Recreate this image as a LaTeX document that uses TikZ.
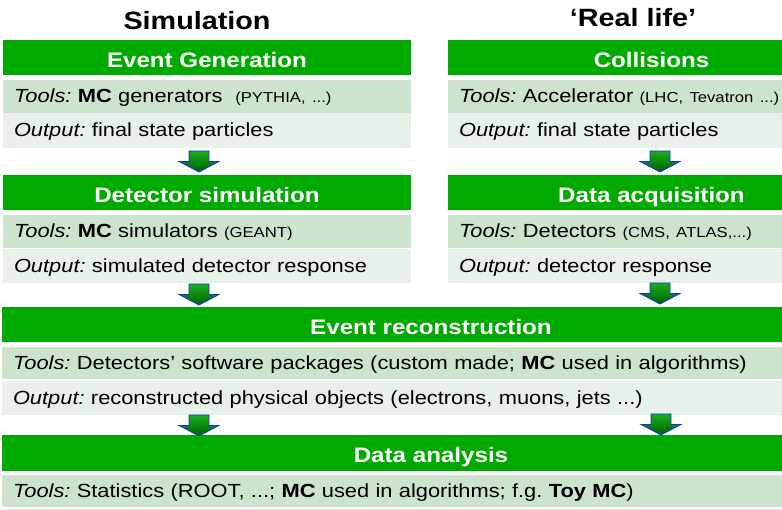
\documentclass[tikz,border=0pt]{standalone}
\usepackage{fontspec}
\setmainfont{Liberation Sans}[FakeStretch=1.15]
\usetikzlibrary{calc}
\frenchspacing

\definecolor{hdrgreen}{RGB}{0,170,0}
\definecolor{rowdark}{RGB}{205,227,205}
\definecolor{rowlight}{RGB}{231,241,231}
\definecolor{arrowtop}{RGB}{25,175,25}
\definecolor{arrowbot}{RGB}{0,95,0}
\definecolor{arrowedge}{RGB}{20,50,235}

\newcommand\smtxt{\fontsize{14.5}{16}\selectfont}

\tikzset{
  titletext/.style={font=\bfseries\fontsize{25}{28}\selectfont, anchor=base, inner sep=0pt},
  hdr/.style={fill=hdrgreen, text=white, font=\bfseries\fontsize{21}{24}\selectfont,
    anchor=north west, minimum height=35pt, inner sep=0pt, outer sep=0pt,
    text height=19.5pt, text depth=0pt},
  rowbase/.style={anchor=north west, inner xsep=11pt, inner ysep=0pt, outer sep=0pt,
    align=left, font=\fontsize{19}{22}\selectfont, text height=15.5pt, text depth=2.5pt},
  toolrow/.style={rowbase, fill=rowdark, minimum height=33pt},
  outrow/.style={rowbase, fill=rowlight, minimum height=34pt},
  arrowbody/.style={top color=arrowtop, bottom color=arrowbot, draw=arrowedge,
    line width=0.8pt, line join=miter},
  downarrow/.pic={
    \path[arrowbody] (-10,0) -- (10,0) -- (10,10.5) -- (20,10.5) -- (0,21)
      -- (-20,10.5) -- (-10,10.5) -- cycle;
  }
}

\begin{document}
\begin{tikzpicture}[x=1pt, y=-1pt]
  \useasboundingbox (0,0) rectangle (782,510);
  \clip (0,0) rectangle (782,510);

  % column titles
  \node[titletext] (simtitle) at (197,30) {Simulation};
  \node[titletext] (realtitle) at (633,27) {‘Real life’};

  % simulation column
  \node[hdr, minimum width=408pt] (evgen) at (3,40) {Event Generation};
  \node[toolrow, text width=386pt] (evgentools) at (3,80)
    {\textit{Tools:} \textbf{MC} generators\ \ {\smtxt (PYTHIA, ...)}};
  \node[outrow, text width=386pt, minimum height=35pt] (evgenout) at (3,113)
    {\textit{Output:} final state particles};

  \node[hdr, minimum width=408pt] (detsim) at (3,175) {Detector simulation};
  \node[toolrow, text width=386pt] (detsimtools) at (3,215)
    {\textit{Tools:} \textbf{MC} simulators {\smtxt (GEANT)}};
  \node[outrow, text width=386pt] (detsimout) at (3,249)
    {\textit{Output:} simulated detector response};

  % real-life column
  \node[hdr, minimum width=407pt] (coll) at (448,40) {Collisions};
  \node[toolrow, text width=385pt] (colltools) at (448,80)
    {\textit{Tools:} Accelerator {\smtxt (LHC, Tevatron ...)}};
  \node[outrow, text width=385pt, minimum height=35pt] (collout) at (448,113)
    {\textit{Output:} final state particles};

  \node[hdr, minimum width=407pt] (daq) at (448,175) {Data acquisition};
  \node[toolrow, text width=385pt] (daqtools) at (448,215)
    {\textit{Tools:} Detectors {\smtxt (CMS, ATLAS,...)}};
  \node[outrow, text width=385pt] (daqout) at (448,249)
    {\textit{Output:} detector response};

  % common stages
  \node[hdr, minimum width=858pt] (reco) at (2,307) {Event reconstruction};
  \node[toolrow, text width=836pt, minimum height=32pt] (recotools) at (2,347)
    {\textit{Tools:} Detectors’ software packages (custom made; \textbf{MC} used in algorithms)};
  \node[outrow, text width=836pt] (recoout) at (2,381)
    {\textit{Output:} reconstructed physical objects (electrons, muons, jets ...)};

  \node[hdr, minimum width=858pt, minimum height=36pt] (ana) at (2,435) {Data analysis};
  \node[toolrow, text width=836pt, minimum height=32pt] (anatools) at (2,475)
    {\textit{Tools:} Statistics (ROOT, ...; \textbf{MC} used in algorithms; f.g. \textbf{Toy MC})};
  \fill[rowlight] (anatools.south west) ++(0,2) rectangle ++(858,10);

  % flow arrows
  \coordinate (a1) at ($(evgenout.south west)+(196,3)$);
  \coordinate (a2) at ($(collout.south west)+(212,3)$);
  \coordinate (a3) at ($(detsimout.south west)+(196,1)$);
  \coordinate (a4) at ($(daqout.south west)+(212,0)$);
  \coordinate (a5) at ($(recoout.south west)+(197,0)$);
  \coordinate (a6) at ($(recoout.south west)+(659,-1)$);
  \foreach \c in {a1,a2,a3,a4,a5,a6} { \pic at (\c) {downarrow}; }
\end{tikzpicture}
\end{document}
